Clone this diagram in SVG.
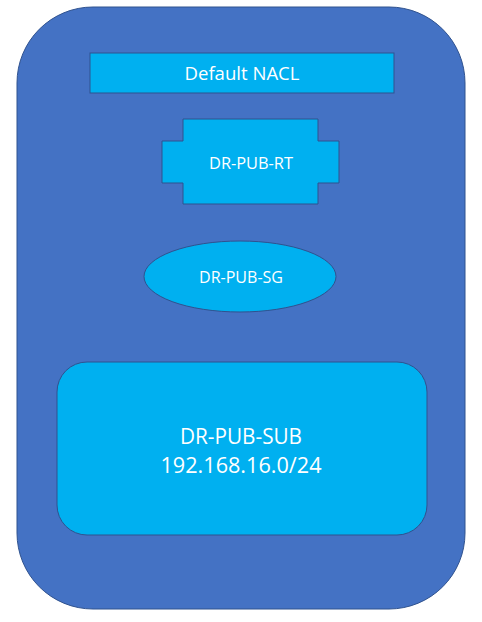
<svg xmlns="http://www.w3.org/2000/svg" width="482" height="622" viewBox="0 0 482 622">
<style>
.shape{fill:#00B0F0;stroke:#2F528F;stroke-width:1}
.lbl{fill:#FFFFFF;font-family:"Open Sans","Liberation Sans",Arial,sans-serif;text-anchor:middle;dominant-baseline:central}
</style>
<rect width="482" height="622" fill="#FFFFFF"/>
<g id="vpc">
<rect x="17" y="7" width="448" height="602" rx="76" ry="76" fill="#4472C4" stroke="#2F528F" stroke-width="1"/>
</g>
<g id="connectors"></g>
<g id="nacl">
<rect class="shape" x="90" y="53" width="304" height="40"/>
<text class="lbl" x="242" y="73" font-size="18" textLength="115" lengthAdjust="spacingAndGlyphs">Default NACL</text>
</g>
<g id="rt">
<polygon class="shape" points="183,119 318,119 318,141 339,141 339,183 318,183 318,204 183,204 183,183 162,183 162,141 183,141"/>
<text class="lbl" x="251" y="162" font-size="17" textLength="84" lengthAdjust="spacingAndGlyphs">DR-PUB-RT</text>
</g>
<g id="sg">
<ellipse class="shape" cx="240" cy="276.5" rx="96" ry="35.5"/>
<text class="lbl" x="241" y="276" font-size="17" textLength="84" lengthAdjust="spacingAndGlyphs">DR-PUB-SG</text>
</g>
<g id="subnet">
<rect class="shape" x="57" y="362" width="370" height="173" rx="30" ry="30"/>
<text class="lbl" x="241" y="435" font-size="22" textLength="122" lengthAdjust="spacingAndGlyphs">DR-PUB-SUB</text>
<text class="lbl" x="241" y="464" font-size="22" textLength="161" lengthAdjust="spacingAndGlyphs">192.168.16.0/24</text>
</g>
</svg>
